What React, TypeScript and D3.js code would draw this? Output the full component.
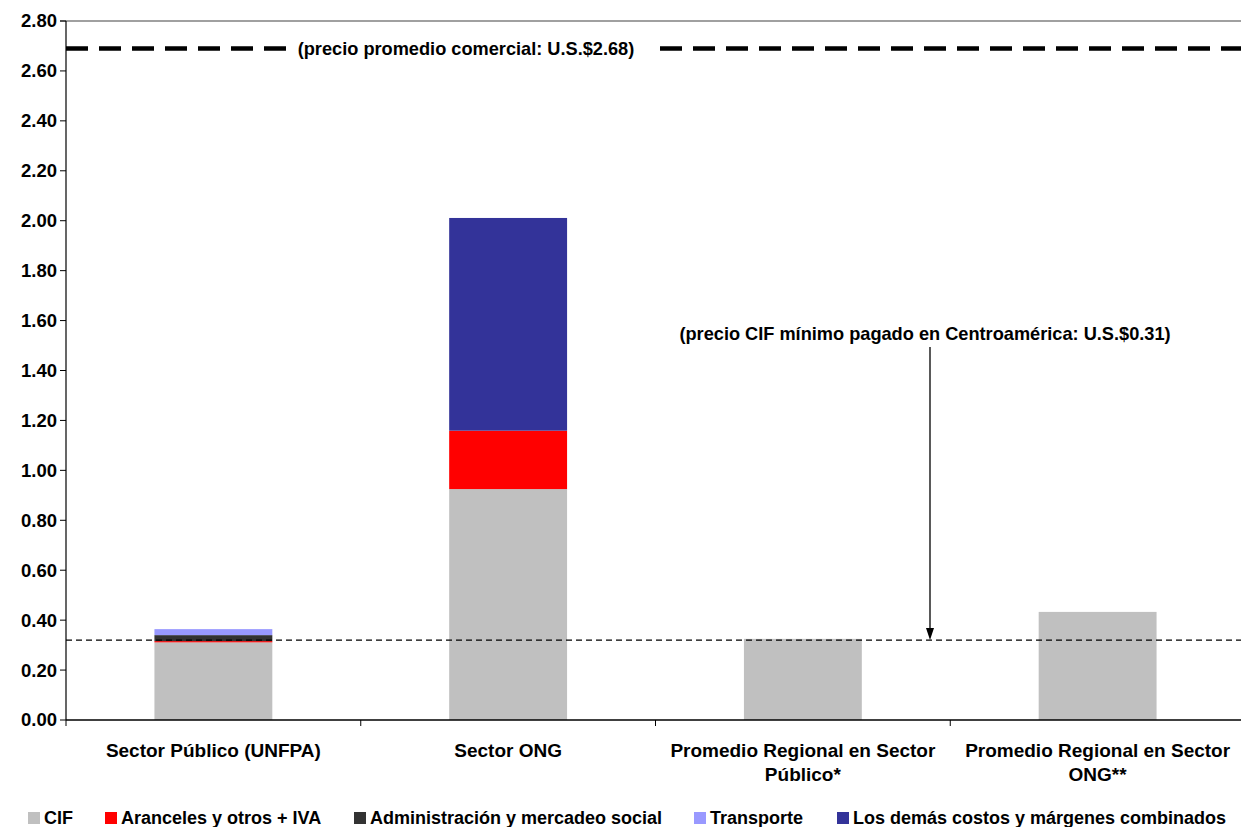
import React from 'react';
import * as d3 from 'd3';

const categories = ['Sector Público (UNFPA)', 'Sector ONG', 'Promedio Regional en Sector Público*', 'Promedio Regional en Sector ONG**'];
const categoryLines = [['Sector Público (UNFPA)'], ['Sector ONG'], ['Promedio Regional en Sector', 'Público*'], ['Promedio Regional en Sector', 'ONG**']];
const seriesNames = ['CIF', 'Aranceles y otros + IVA', 'Administración y mercadeo social', 'Transporte', 'Los demás costos y márgenes combinados'];
const cif = [0.311, 0.925, 0.325, 0.433];
const aranceles = [0.005, 0.234, 0, 0];
const administracion = [0.024, 0, 0, 0];
const transporte = [0.024, 0, 0, 0];
const otros = [0, 0.852, 0, 0];
const seriesColors = ['#C0C0C0', '#FF0000', '#333333', '#9999FF', '#333399'];
const yTicks = [0, 0.2, 0.4, 0.6, 0.8, 1.0, 1.2, 1.4, 1.6, 1.8, 2.0, 2.2, 2.4, 2.6, 2.8];
const precioComercial = 2.69;
const precioCifMinimo = 0.32;
const labelComercial = '(precio promedio comercial: U.S.$2.68)';
const labelCif = '(precio CIF mínimo pagado en Centroamérica: U.S.$0.31)';

const W = 1241, H = 827;
const left = 66, right = 1245, top = 21, bottom = 720;
const font = 'Arial, "Liberation Sans", sans-serif';

export default function App() {
  const y = d3.scaleLinear().domain([0, 2.8]).range([bottom, top]);
  const x = d3.scaleBand<string>().domain(categories).range([left, right]).padding(0);
  const barW = x.bandwidth() * 0.4;
  const rows = categories.map((c, i) => ({ key: c, s0: cif[i], s1: aranceles[i], s2: administracion[i], s3: transporte[i], s4: otros[i] }));
  const stack = d3.stack<any>().keys(['s0', 's1', 's2', 's3', 's4'])(rows);
  const legendX = [28, 105, 354, 694, 837];
  const boundaries = [left, ...categories.slice(1).map(c => x(c)!)];
  const arrowX = 930;
  return (
    <svg width={W} height={H} style={{ position: 'absolute', left: 0, top: 0, background: '#fff' }} fontFamily={font} fontWeight="bold">
      {stack.map((layer, si) => (
        <g key={si} fill={seriesColors[si]}>
          {layer.map((d, i) => d[1] - d[0] > 0 ? (
            <rect key={i} x={x(categories[i])! + (x.bandwidth() - barW) / 2} width={barW} y={y(d[1])} height={y(d[0]) - y(d[1])} />
          ) : null)}
        </g>
      ))}
      {/* axes */}
      <line x1={left - 6} x2={W} y1={top} y2={top} stroke="#808080" strokeWidth={1.5} />
      <line x1={left} x2={left} y1={top} y2={bottom} stroke="#000" strokeWidth={1.2} />
      <line x1={left} x2={W} y1={bottom} y2={bottom} stroke="#000" strokeWidth={1.5} />
      {yTicks.map(t => (
        <g key={t}>
          <line x1={left - 6} x2={left} y1={y(t)} y2={y(t)} stroke="#000" />
          <text x={left - 9} y={y(t)} dy="0.35em" textAnchor="end" fontSize={18.5}>{t.toFixed(2)}</text>
        </g>
      ))}
      {boundaries.map((b, i) => (
        <line key={i} x1={b} x2={b} y1={bottom} y2={bottom + 6} stroke="#000" />
      ))}
      {categories.map((c, i) => (
        <text key={c} x={x(c)! + x.bandwidth() / 2} y={757} textAnchor="middle" fontSize={19}>
          {categoryLines[i].map((ln, j) => <tspan key={j} x={x(c)! + x.bandwidth() / 2} dy={j === 0 ? 0 : 24}>{ln}</tspan>)}
        </text>
      ))}
      {/* reference lines */}
      <line x1={left} x2={W} y1={y(precioComercial)} y2={y(precioComercial)} stroke="#000" strokeWidth={4.5} strokeDasharray="22 11" />
      <rect x={288} y={y(precioComercial) - 13} width={367} height={26} fill="#fff" />
      <text x={466} y={y(precioComercial)} dy="0.35em" textAnchor="middle" fontSize={18.2}>{labelComercial}</text>
      <line x1={left} x2={W} y1={y(precioCifMinimo)} y2={y(precioCifMinimo)} stroke="#000" strokeWidth={1.3} strokeDasharray="6 4" />
      <text x={925} y={334} dy="0.35em" textAnchor="middle" fontSize={18.2}>{labelCif}</text>
      <line x1={arrowX} x2={arrowX} y1={347} y2={y(precioCifMinimo) - 8} stroke="#000" strokeWidth={1.3} />
      <path d={`M${arrowX - 4},${y(precioCifMinimo) - 12} L${arrowX + 4},${y(precioCifMinimo) - 12} L${arrowX},${y(precioCifMinimo)} Z`} fill="#000" />
      {/* legend */}
      {seriesNames.map((n, i) => (
        <g key={n}>
          <rect x={legendX[i]} y={812} width={12} height={12} fill={seriesColors[i]} />
          <text x={legendX[i] + 16} y={818} dy="0.35em" fontSize={18}>{n}</text>
        </g>
      ))}
    </svg>
  );
}
